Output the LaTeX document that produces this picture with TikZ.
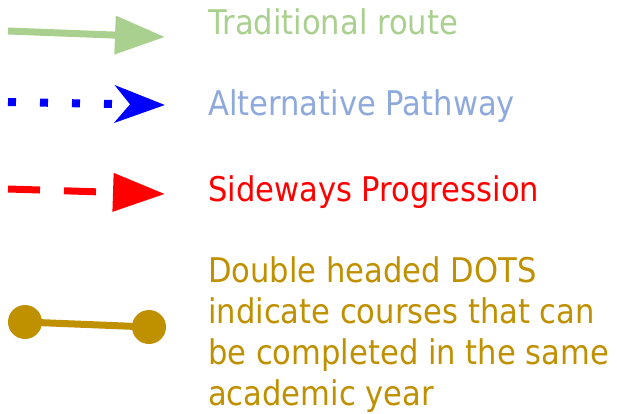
\documentclass[tikz,border=0pt]{standalone}
\usepackage{fontspec}
\setmainfont{DejaVu Sans}[FakeStretch=0.9]
\usetikzlibrary{arrows.meta}
\definecolor{tradgreen}{RGB}{169,208,142}
\definecolor{altblue}{RGB}{142,169,219}
\definecolor{sidered}{RGB}{255,0,0}
\definecolor{dotgold}{RGB}{191,144,0}
\tikzset{
  lbl/.style={anchor=base west, inner sep=0pt, font=\fontsize{34}{41}\selectfont},
  trad/.style={draw=tradgreen, line width=7pt, -{Triangle[length=50pt,width=37pt]}},
  alt/.style={draw=blue, line width=8pt, dash pattern=on 8pt off 24pt, -{Stealth[length=50pt,width=37pt,inset=15pt]}},
  side/.style={draw=sidered, line width=7pt, dash pattern=on 32pt off 24pt, -{Triangle[length=52pt,width=37pt]}},
  samey/.style={draw=dotgold, line width=7pt},
  golddot/.style={circle, fill=dotgold, minimum size=34pt, inner sep=0pt},
}
\begin{document}
\begin{tikzpicture}[x=1pt,y=-1pt]
\useasboundingbox (0,0) rectangle (617,414);
% traditional
\coordinate (t1) at (8,31);
\coordinate (t2) at (165,37);
\draw[trad] (t1) -- (t2);
\node[lbl, text=tradgreen] (tl) at (208,35) {Traditional route};
% alternative
\coordinate (a1) at (8,102);
\coordinate (a2) at (165,105);
\draw[alt] (a1) -- (a2);
\node[lbl, text=altblue] (al) at (208,116) {Alternative Pathway};
% sideways
\coordinate (s1) at (8,189);
\coordinate (s2) at (165,194);
\draw[side] (s1) -- (s2);
\node[lbl, text=sidered] (sl) at (208,201) {Sideways Progression};
% double dots
\node[golddot] (d1) at (25,322) {};
\node[golddot] (d2) at (149,327) {};
\draw[samey] (d1.center) -- (d2.center);
\node[lbl, text=dotgold, align=left, anchor=north west] (dl) at (208,256) {Double headed DOTS\\indicate courses that can\\be completed in the same\\academic year};
\end{tikzpicture}
\end{document}
